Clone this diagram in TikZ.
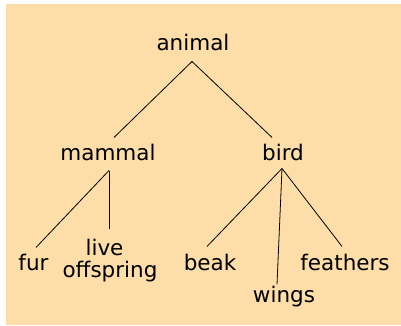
\documentclass[tikz,border=0pt]{standalone}
\usepackage{fontspec}
\setmainfont{DejaVu Sans}
\usetikzlibrary{calc}
\definecolor{bgbeige}{RGB}{253,222,168}
\tikzset{
  lbl/.style={anchor=base, inner sep=0pt, font=\fontsize{21.5}{24}\selectfont, text=black},
  edge/.style={draw=black, line width=0.8pt}
}
\begin{document}
\begin{tikzpicture}[x=1pt, y=-1pt]
\useasboundingbox (0,0) rectangle (401,326);
\fill[white] (0,0) rectangle (401,326);
\fill[bgbeige] (6,4) rectangle (401,325);
\node[lbl] (animal) at (193,51) {animal};
\node[lbl] (mammal) at (108,160) {mammal};
\node[lbl] (bird) at (283,160) {bird};
\node[lbl] (fur) at (33.5,270) {fur};
\node[lbl] (live) at (104.5,255) {live};
\node[lbl] (offspring) at (110,277) {offspring};
\node[lbl] (beak) at (210,270) {beak};
\node[lbl] (wings) at (284,302) {wings};
\node[lbl] (feathers) at (345,270) {feathers};
\draw[edge] ($(animal.south)+(-1,10)$) -- ($(mammal.north)+(6,-6)$);
\draw[edge] ($(animal.south)+(-1,10)$) -- ($(bird.north)+(-11,-6)$);
\draw[edge] ($(mammal.south)+(1,10)$) -- ($(fur.north)+(2.5,-6)$);
\draw[edge] ($(mammal.south)+(1,10)$) -- ($(live.north)+(4.5,-9)$);
\draw[edge] ($(bird.south)+(-1,8)$) -- ($(beak.north)+(-3,-7)$);
\draw[edge] ($(bird.south)+(-1,8)$) -- ($(wings.north)+(-7,-1)$);
\draw[edge] ($(bird.south)+(-1,8)$) -- ($(feathers.north)+(-3,-7)$);
\end{tikzpicture}
\end{document}
